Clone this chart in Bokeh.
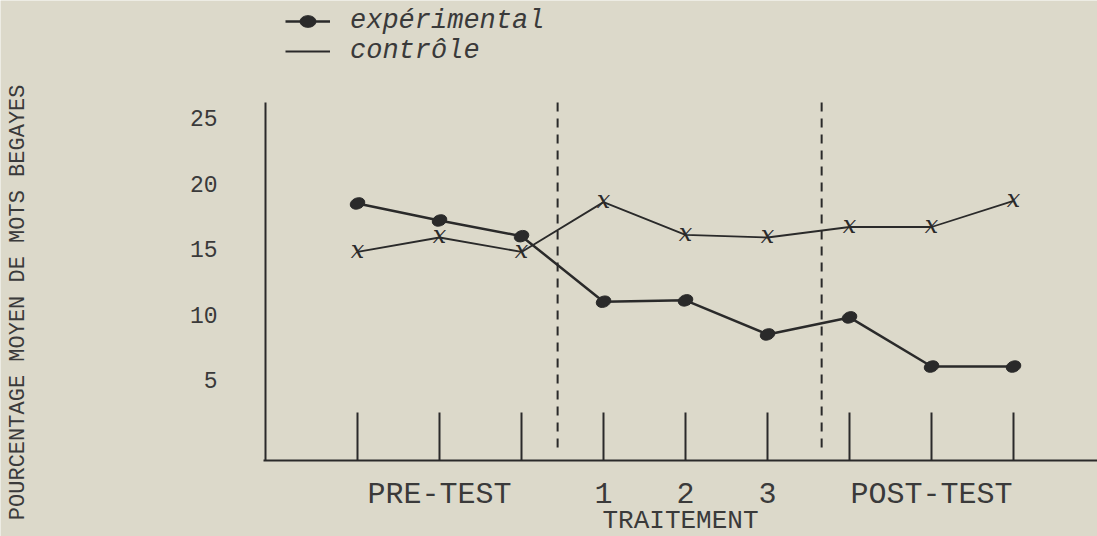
import math
from bokeh.plotting import figure
from bokeh.models import Range1d, FixedTicker, Legend, LegendItem
from bokeh.core.properties import value
from bokeh.embed import file_html
from bokeh.resources import INLINE

# ---- data ----
sessions = [1, 2, 3, 4, 5, 6, 7, 8, 9]
experimental = [18.5, 17.2, 16.0, 11.0, 11.1, 8.5, 9.8, 6.05, 6.05]
controle = [14.8, 15.9, 14.8, 18.6, 16.1, 15.9, 16.7, 16.7, 18.7]
tick_labels = ["", "PRE-TEST", "", "1", "2", "3", "", "POST-TEST", ""]
y_ticks = [5, 10, 15, 20, 25]
phase_breaks = [3.44, 6.66]
y_title = "POURCENTAGE MOYEN DE MOTS BEGAYES"
x_title = "TRAITEMENT"

BG = "#dcd9ca"
INK = "#2a2a2a"
TXT = "#3a3a3a"
MONO = "Liberation Mono"

X0, X1 = -3.354, 10.024      # data x at the canvas edges
Y0, Y1 = -6.924, 33.99       # data y at the canvas edges
X_AXIS_AT = -1.122           # where the x axis crosses
Y_AXIS_AT = -0.122           # where the y axis crosses

p = figure(width=1097, height=536, output_backend="svg", toolbar_location=None,
           x_range=Range1d(X0, X1), y_range=Range1d(Y0, Y1),
           min_border=0, min_border_left=0, min_border_right=0, min_border_top=0,
           min_border_bottom=0, background_fill_color=BG, border_fill_color=BG,
           outline_line_color=None)
p.grid.visible = False

# y axis (kept on the left side, drawn at a fixed position)
ya = p.yaxis[0]
ya.fixed_location = Y_AXIS_AT
ya.ticker = FixedTicker(ticks=y_ticks)
ya.bounds = (X_AXIS_AT, 26.21)
ya.axis_line_color = INK
ya.axis_line_width = 2
ya.major_tick_in = 0
ya.major_tick_out = 0
ya.minor_tick_in = 0
ya.minor_tick_out = 0
ya.major_label_standoff = 48
ya.major_label_text_font = MONO
ya.major_label_text_font_size = "23px"
ya.major_label_text_color = TXT

# x axis (kept below, drawn at a fixed position)
xa = p.xaxis[0]
xa.fixed_location = X_AXIS_AT
xa.ticker = FixedTicker(ticks=sessions)
xa.bounds = (-0.15, X1)
xa.major_label_overrides = {s: lab for s, lab in zip(sessions, tick_labels)}
xa.axis_line_color = INK
xa.axis_line_width = 2
xa.major_tick_line_color = INK
xa.major_tick_line_width = 2
xa.major_tick_in = 48
xa.major_tick_out = 0
xa.minor_tick_in = 0
xa.minor_tick_out = 0
xa.major_label_standoff = 18
xa.major_label_text_font = MONO
xa.major_label_text_font_size = "30px"
xa.major_label_text_color = TXT
xa.axis_label = x_title
xa.axis_label_standoff = -10
xa.axis_label_text_font = MONO
xa.axis_label_text_font_style = "normal"
xa.axis_label_text_font_size = "26px"
xa.axis_label_text_color = TXT

# vertical y title
p.text(x=[-3.134], y=[27.58], text=[y_title], angle=math.pi / 2,
       text_align="right", text_baseline="middle", text_font=value(MONO),
       text_font_size="22px", text_color=TXT)

# phase separators
p.segment(x0=phase_breaks, y0=[-0.13] * len(phase_breaks), x1=phase_breaks,
          y1=[26.74] * len(phase_breaks), line_dash="9 7", line_width=2, line_color=INK)

# series
exp_line = p.line(sessions, experimental, line_width=2.5, line_color=INK)
exp_pts = p.ellipse(sessions, experimental, width=15, height=11, width_units="screen",
                    height_units="screen", angle=0.35, fill_color=INK, line_color=INK)
ctl_line = p.line(sessions, controle, line_width=1.8, line_color=INK)
ctl_pts = p.text(sessions, controle, text=value("x"), text_font=value("DejaVu Serif"),
                 text_font_style="italic", text_font_size="24px", text_align="center",
                 text_baseline="middle", text_color=INK, y_offset=-2)

legend = Legend(items=[LegendItem(label="expérimental", renderers=[exp_line, exp_pts]),
                       LegendItem(label="contrôle", renderers=[ctl_line, ctl_pts])],
                location=(285, 470), glyph_width=45, glyph_height=20, label_standoff=20,
                padding=0, margin=0, spacing=-6, border_line_color=None,
                background_fill_alpha=0, label_text_font=MONO,
                label_text_font_style="italic", label_text_font_size="27px",
                label_text_color=TXT)
p.add_layout(legend)

html = file_html(p, INLINE)
html = html.replace("<body>", '<body style="background-color:%s;">' % BG, 1)
open("out.html", "w", encoding="utf-8").write(html)
